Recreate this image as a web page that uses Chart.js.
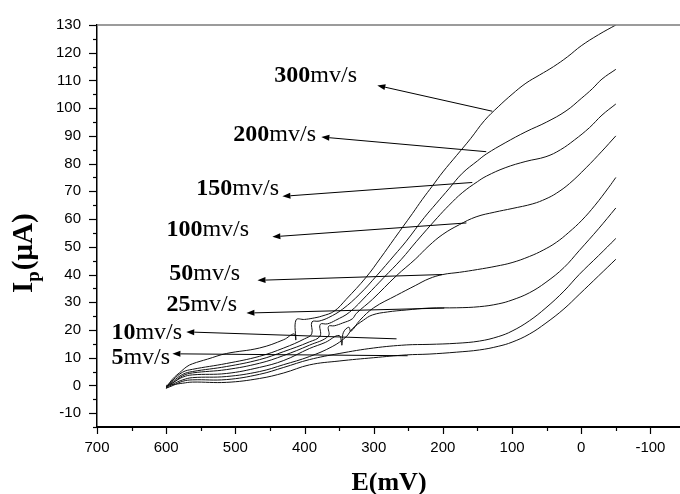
<!DOCTYPE html>
<html>
<head>
<meta charset="utf-8">
<script src="https://cdn.jsdelivr.net/npm/chart.js@4/dist/chart.umd.min.js"></script>
<style>
html,body{margin:0;padding:0;background:#fff;overflow:hidden;width:680px;height:494px;}
#wrap{position:absolute;left:0;top:0;width:690px;height:494px;}
</style>
</head>
<body>
<div id="wrap"><canvas id="c" width="690" height="494"></canvas></div>
<script>
// ---- data (E in mV, Ip in µA) ----
const e300 = [600,595,588,581,570,562,540,513,465,430,415,412.6,412.3,400,389,375,357,340,311,290,270,244,230,215,200,180,160,140,120,100,80,60,40,20,0,-25,-50];
const i300 = [-1,1,3,4.5,6.8,7.8,9.5,11.5,13.5,16.5,18.6,16.4,23.6,23.8,24.2,25,26.8,31,39,46,53,62,67,72,77,83,89,95.5,100.5,105,109,112,115,118.5,122.5,126.5,130];
const e200 = [600,590,576,562,513,465,430,400,389.6,389.3,379,365,345,320,296,270,253,227,210,191,172,150,137,110,80,50,22,0,-16,-30,-50];
const i200 = [-0.5,2,4.8,5.8,7.9,10.5,13.5,16.8,18.6,22.9,23.2,24.5,27.5,33,39.5,47,52,60.5,65.5,71,76.5,81,83.5,87.5,91.5,95,99,103.5,107,110.5,114];
const e150 = [600,590,576,562,513,465,430,393,377.6,377.3,367,355,335,310,285,260,238,208,191,172,150,137,110,80,51,30,10,-12,-30,-50];
const i150 = [-0.5,1.5,4,5,6.8,9.3,12.2,15.7,17.8,22,22.2,23.5,26.4,32.5,39,45.5,52,60.5,65,69.5,73.5,75.5,78.5,80.8,82.5,85,88.5,93,97.5,101.5];
const e100 = [600,590,576,562,513,465,430,393,365.6,365.3,357,345,331,325,302,267,240,220,200,176,152,125,100,70,51,36,17,-7,-30,-50];
const i100 = [-0.5,1,3.5,4.5,5.7,8,10.8,14.5,17.8,21.3,21.5,22.5,24,26,31,39.6,45.5,50.4,54.5,58,60.8,62.5,63.8,65.5,67.3,69.3,72.8,78.5,84.5,90];
const e50 = [600,590,576,562,513,465,430,393,370,350,346,344,336,333,320,300,267,240,220,200,176,150,123,100,75,55,36,18,-1,-20,-40,-50];
const i50 = [-0.5,1,3,3.8,4.3,6.5,9,13.3,15.5,18,14.5,19,21,19.5,23.5,28,32.5,36,38.5,40,40.8,41.8,43,44.3,46.5,48.8,51.6,55.2,59.6,65,71.5,75];
const e25 = [600,590,576,562,513,465,430,393,360,340,331,315,302,280,253,220,180,147,120,100,75,51,25,3,-25,-50];
const i25 = [-1,0.5,2,2.8,3.2,5,7.5,10.4,14,17.5,20.4,23.5,25.4,26.5,27.2,27.9,28,28.4,29.4,30.8,33.4,37.2,42.5,48.6,56.5,64];
const e10 = [600,590,576,562,513,465,430,393,350,300,253,220,180,147,120,100,75,51,25,3,-25,-50];
const i10 = [-1,0,1.5,2,2.1,4,6.5,9.3,11.5,13.5,14.6,14.8,15.2,16,17.6,19.6,23.3,28,34,40,46.8,53];
const e5 = [600,590,576,562,513,465,430,393,350,300,253,220,180,147,120,100,75,51,25,3,-25,-50];
const i5 = [0,0.3,0.8,1.2,1.1,2.5,4.5,7.4,8.8,10,11,11.3,12,12.8,14.1,15.6,18.5,22.5,27.6,32.8,39.5,45.5];

const xTicks = [700,600,500,400,300,200,100,0,-100];
const yTicks = [-10,0,10,20,30,40,50,60,70,80,90,100,110,120,130];

// annotation labels (scan rates) and arrows, in data units
const rateNums  = ['300','200','150','100','50','25','10','5'];
const rateUnit  = 'mv/s';
const labelE    = [443.6,502.9,556.4,599.7,595.4,599.7,679.2,679.2];
const labelI    = [109.5,88.2,68.6,53.9,38.2,26.8,16.8,7.9];
const arrowTailE = [128.6,137.3,157.5,166,201,198,267,251];
const arrowTailI = [98.9,84.3,73.2,58.6,40,27.9,16.8,10.7];
const arrowHeadE = [294.8,375.7,432,446.5,468,484,571,591];
const arrowHeadI = [108.2,89.6,68.2,53.6,37.9,26.1,19.3,11.4];

const series = [
  {name:'300', e:e300, i:i300},
  {name:'200', e:e200, i:i200},
  {name:'150', e:e150, i:i150},
  {name:'100', e:e100, i:i100},
  {name:'50',  e:e50,  i:i50},
  {name:'25',  e:e25,  i:i25},
  {name:'10',  e:e10,  i:i10},
  {name:'5',   e:e5,   i:i5}
];

const datasets = series.map(s => ({
  label: s.name + ' mv/s',
  data: s.e.map((x,k) => ({x: x, y: s.i[k]})),
  borderColor: '#111',
  borderWidth: 1,
  pointRadius: 0,
  showLine: true,
  fill: false,
  tension: 0.4
}));

const deco = {
  id: 'deco',
  afterDraw(chart) {
    const ctx = chart.ctx, xs = chart.scales.x, ys = chart.scales.y, ca = chart.chartArea;
    ctx.save();
    // top frame line
    ctx.strokeStyle = '#7a7a7a'; ctx.lineWidth = 1.5;
    ctx.beginPath(); ctx.moveTo(ca.left, ca.top); ctx.lineTo(ca.right, ca.top); ctx.stroke();
    // ticks
    ctx.strokeStyle = '#000'; ctx.lineWidth = 1.2;
    for (let v = -15; v <= 130; v += 5) {
      const y = Math.round(ys.getPixelForValue(v)) + 0.5;
      const len = (v % 10 === 0) ? 8 : 4;
      ctx.beginPath(); ctx.moveTo(ca.left, y); ctx.lineTo(ca.left - len, y); ctx.stroke();
    }
    for (let v = 700; v >= -150; v -= 50) {
      const x = Math.round(xs.getPixelForValue(v)) + 0.5;
      const len = (v % 100 === 0) ? 7 : 4;
      ctx.beginPath(); ctx.moveTo(x, ca.bottom); ctx.lineTo(x, ca.bottom + len); ctx.stroke();
    }
    // annotations
    ctx.fillStyle = '#000'; ctx.strokeStyle = '#000'; ctx.lineWidth = 1;
    for (let k = 0; k < rateNums.length; k++) {
      const tx = xs.getPixelForValue(arrowTailE[k]), ty = ys.getPixelForValue(arrowTailI[k]);
      const hx = xs.getPixelForValue(arrowHeadE[k]), hy = ys.getPixelForValue(arrowHeadI[k]);
      const ang = Math.atan2(hy - ty, hx - tx);
      const L = 8, W = 3;
      const bx = hx - L*Math.cos(ang), by = hy - L*Math.sin(ang);
      ctx.beginPath(); ctx.moveTo(tx, ty); ctx.lineTo(bx, by); ctx.stroke();
      ctx.beginPath();
      ctx.moveTo(hx, hy);
      ctx.lineTo(bx + W*Math.sin(ang), by - W*Math.cos(ang));
      ctx.lineTo(bx - W*Math.sin(ang), by + W*Math.cos(ang));
      ctx.closePath(); ctx.fill();
      const lx = xs.getPixelForValue(labelE[k]), ly = ys.getPixelForValue(labelI[k]);
      ctx.textBaseline = 'alphabetic'; ctx.textAlign = 'left';
      ctx.font = 'bold 24px "Liberation Serif", "Times New Roman", serif';
      ctx.fillText(rateNums[k], lx, ly);
      const w = ctx.measureText(rateNums[k]).width;
      ctx.font = '24px "Liberation Serif", "Times New Roman", serif';
      ctx.fillText(rateUnit, lx + w, ly);
    }
    // x title
    ctx.font = 'bold 26px "Liberation Serif", serif';
    ctx.textAlign = 'center'; ctx.textBaseline = 'alphabetic';
    ctx.fillText('E(mV)', (ca.left + ca.right) / 2 - 2, 490);
    // y title (rotated) : I_p(µA)
    ctx.translate(32, 293);
    ctx.rotate(-Math.PI/2);
    ctx.textAlign = 'left';
    let x0 = 0;
    ctx.font = 'bold 29px "Liberation Serif", serif';
    ctx.fillText('I', x0, 0); x0 += ctx.measureText('I').width;
    ctx.font = 'bold 19px "Liberation Serif", serif';
    ctx.fillText('p', x0, 7); x0 += ctx.measureText('p').width + 1;
    ctx.font = 'bold 29px "Liberation Serif", serif';
    ctx.fillText('(\u03bcA)', x0, 0);
    ctx.restore();
  }
};

new Chart(document.getElementById('c'), {
  type: 'scatter',
  data: { datasets: datasets },
  options: {
    responsive: false,
    animation: false,
    devicePixelRatio: 1,
    layout: { padding: { top: 20, right: 5, left: 0, bottom: 0 } },
    plugins: { legend: { display: false }, tooltip: { enabled: false } },
    scales: {
      x: {
        type: 'linear', reverse: true, min: -150, max: 700,
        afterBuildTicks: s => { s.ticks = xTicks.map(v => ({value: v})); },
        afterFit: s => { s.height = 67; },
        grid: { display: false, drawTicks: false },
        border: { display: true, color: '#000', width: 2 },
        ticks: { padding: 12, color: '#000', font: { family: '"Liberation Sans", Arial, sans-serif', size: 15 }, maxRotation: 0, autoSkip: false }
      },
      y: {
        type: 'linear', min: -15, max: 130,
        afterBuildTicks: s => { s.ticks = yTicks.map(v => ({value: v})); },
        afterFit: s => { s.width = 97; },
        grid: { display: false, drawTicks: false },
        border: { display: true, color: '#000', width: 1.5 },
        ticks: { padding: 16, color: '#000', font: { family: '"Liberation Sans", Arial, sans-serif', size: 15 }, autoSkip: false }
      }
    }
  },
  plugins: [deco]
});
</script>
</body>
</html>
